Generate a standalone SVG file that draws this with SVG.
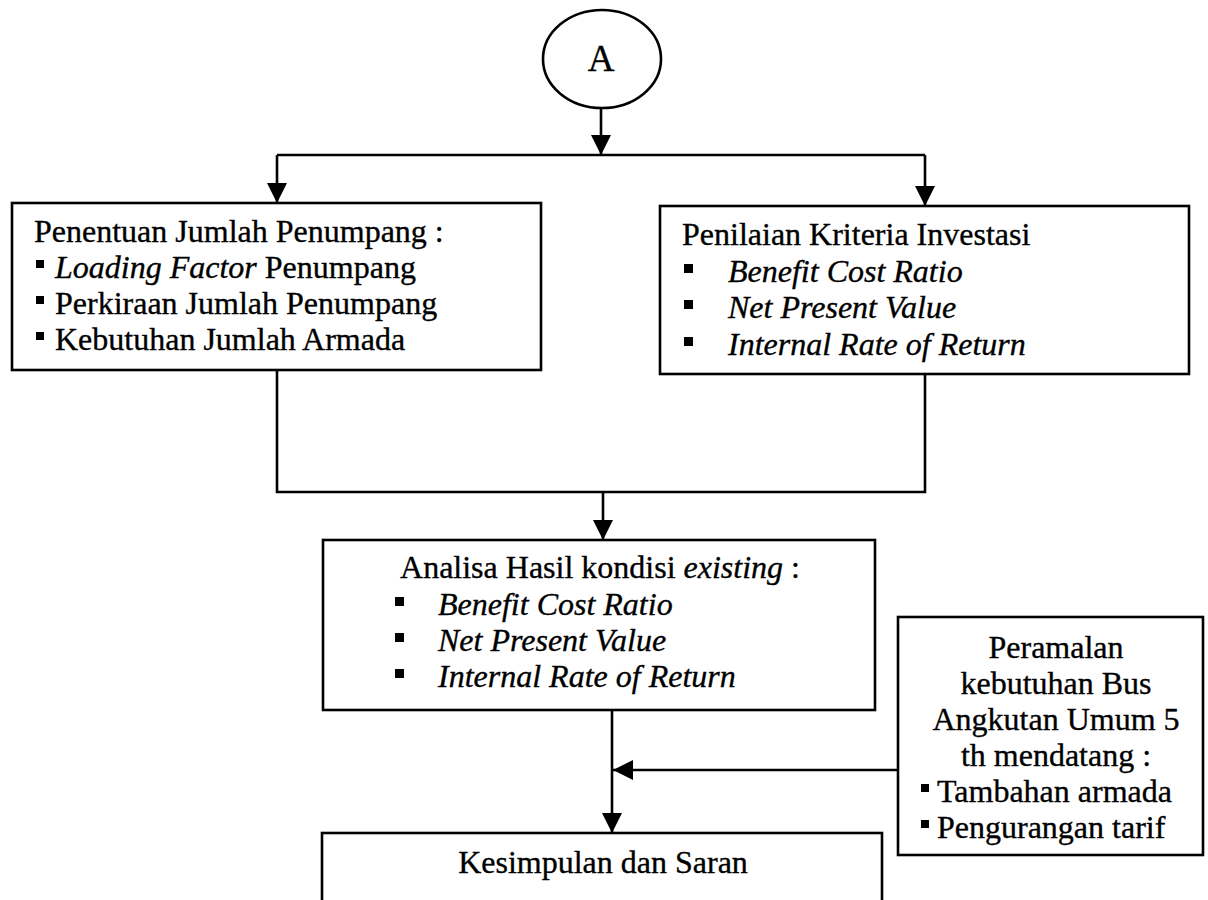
<svg xmlns="http://www.w3.org/2000/svg" width="1208" height="900" viewBox="0 0 1208 900">
  <defs>
    <marker id="arr" markerUnits="userSpaceOnUse" markerWidth="22" markerHeight="22" refX="20" refY="10" orient="auto">
      <path d="M0,0 L20,10 L0,20 z" fill="#000"/>
    </marker>
    <style>
      .box { fill: #fff; stroke: #000; stroke-width: 2.6; }
      .line { fill: none; stroke: #000; stroke-width: 2.6; }
      .t { font-family: "Liberation Serif", "Times New Roman", serif; font-size: 32px; fill: #000; stroke: #000; stroke-width: 0.35; }
      .i { font-style: italic; }
      .c { text-anchor: middle; }
      .b { fill: #000; }
    </style>
  </defs>
  <rect x="0" y="0" width="1208" height="900" fill="#fff"/>

  <g id="connectors">
    <line class="line" x1="601" y1="108" x2="601" y2="155" marker-end="url(#arr)"/>
    <line class="line" x1="277" y1="155" x2="925" y2="155"/>
    <line class="line" x1="277" y1="155" x2="277" y2="203" marker-end="url(#arr)"/>
    <line class="line" x1="925" y1="155" x2="925" y2="206" marker-end="url(#arr)"/>
    <polyline class="line" points="277,370 277,492 925,492 925,374"/>
    <line class="line" x1="603" y1="492" x2="603" y2="540" marker-end="url(#arr)"/>
    <line class="line" x1="612" y1="710" x2="612" y2="833" marker-end="url(#arr)"/>
    <line class="line" x1="898" y1="770" x2="613" y2="770" marker-end="url(#arr)"/>
  </g>

  <g id="node-a">
    <ellipse class="box" cx="602" cy="59" rx="59" ry="49"/>
    <text class="t c" x="601" y="71" style="font-size:37px">A</text>
  </g>

  <g id="node-penumpang">
    <rect class="box" x="12" y="203" width="529" height="167"/>
    <text class="t" x="34" y="242">Penentuan Jumlah Penumpang :</text>
    <rect class="b" x="36" y="260" width="8" height="8"/>
    <text class="t" x="55" y="278"><tspan class="i">Loading Factor</tspan> Penumpang</text>
    <rect class="b" x="36" y="296" width="8" height="8"/>
    <text class="t" x="55" y="314">Perkiraan Jumlah Penumpang</text>
    <rect class="b" x="36" y="332" width="8" height="8"/>
    <text class="t" x="55" y="350">Kebutuhan Jumlah Armada</text>
  </g>

  <g id="node-investasi">
    <rect class="box" x="660" y="206" width="529" height="168"/>
    <text class="t" x="682" y="245">Penilaian Kriteria Investasi</text>
    <rect class="b" x="684" y="264" width="9" height="9"/>
    <text class="t i" x="728" y="282">Benefit Cost Ratio</text>
    <rect class="b" x="684" y="300" width="9" height="9"/>
    <text class="t i" x="728" y="318">Net Present Value</text>
    <rect class="b" x="684" y="337" width="9" height="9"/>
    <text class="t i" x="728" y="355">Internal Rate of Return</text>
  </g>

  <g id="node-analisa">
    <rect class="box" x="323" y="540" width="552" height="170"/>
    <text class="t c" x="600" y="578">Analisa Hasil kondisi <tspan class="i">existing</tspan> :</text>
    <rect class="b" x="395" y="597" width="9" height="9"/>
    <text class="t i" x="438" y="615">Benefit Cost Ratio</text>
    <rect class="b" x="395" y="633" width="9" height="9"/>
    <text class="t i" x="438" y="651">Net Present Value</text>
    <rect class="b" x="395" y="669" width="9" height="9"/>
    <text class="t i" x="438" y="687">Internal Rate of Return</text>
  </g>

  <g id="node-peramalan">
    <rect class="box" x="898" y="617" width="305" height="238"/>
    <text class="t c" x="1056" y="658">Peramalan</text>
    <text class="t c" x="1056" y="694">kebutuhan Bus</text>
    <text class="t c" x="1056" y="730">Angkutan Umum 5</text>
    <text class="t c" x="1056" y="766">th mendatang :</text>
    <rect class="b" x="921" y="784" width="8" height="8"/>
    <text class="t" x="937" y="802">Tambahan armada</text>
    <rect class="b" x="921" y="820" width="8" height="8"/>
    <text class="t" x="937" y="838">Pengurangan tarif</text>
  </g>

  <g id="node-kesimpulan">
    <rect class="box" x="322" y="833" width="560" height="90"/>
    <text class="t c" x="603" y="873">Kesimpulan dan Saran</text>
  </g>
</svg>
